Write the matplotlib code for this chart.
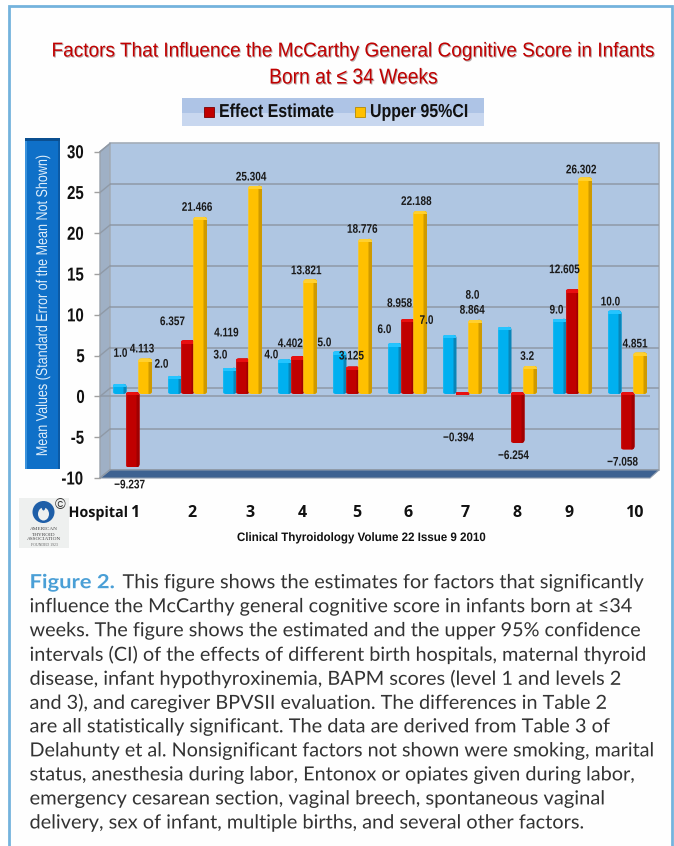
import numpy as np
import matplotlib
matplotlib.use("Agg")
import matplotlib.pyplot as plt
from matplotlib.colors import to_rgb, to_rgba
from matplotlib.patheffects import AbstractPathEffect
from matplotlib.transforms import Affine2D
from matplotlib.patches import Rectangle, Polygon, Circle, FancyBboxPatch, Ellipse

# ---------- data ----------
hospitals = ["1", "2", "3", "4", "5", "6", "7", "8", "9", "10"]
hospital_index = [1, 2, 3, 4, 5, 6, 7, 8, 9, 10]
hospital_values = [1.0, 2.0, 3.0, 4.0, 5.0, 6.0, 7.0, 8.0, 9.0, 10.0]
effect_estimate = [-9.237, 6.357, 4.119, 4.402, 3.125, 8.958, -0.394, -6.254, 12.605, -7.058]
upper_ci = [4.113, 21.466, 25.304, 13.821, 18.776, 22.188, 8.864, 3.2, 26.302, 4.851]
hospital_labels = ["1.0", "2.0", "3.0", "4.0", "5.0", "6.0", "7.0", "8.0", "9.0", "10.0"]
effect_labels = ["\u22129.237", "6.357", "4.119", "4.402", "3.125", "8.958", "\u22120.394", "\u22126.254", "12.605", "\u22127.058"]
upper_labels = ["4.113", "21.466", "25.304", "13.821", "18.776", "22.188", "8.864", "3.2", "26.302", "4.851"]
y_ticks = [-10, -5, 0, 5, 10, 15, 20, 25, 30]

# label offsets (px) relative to bar tip
hospital_off = [(1, 30), (-13, 11), (-9, 12), (-13, 4), (-15, 8), (-10, 13), (-23, 14), (-32, 31), (-3, 8), (-4, 8)]
effect_off = [(-3, -18), (-15, 18), (-16, 25), (-7, 12), (-1, 10), (-8, 15), (-4, -43), (-4, -13), (-8, 19), (-5, -13)]
upper_off = [(-3, 9), (-3, 9), (-4, 8), (-4, 8), (-3, 9), (-4, 9), (-3, 9), (-3, 9), (-4, 7), (-5, 8)]
tick_label_x = [135, 192, 250, 302, 357, 408, 465, 517, 569, 634]

W, H = 674, 846
SANS = "Liberation Sans"
BODY = "Lato"
fig = plt.figure(figsize=(W / 100, H / 100), dpi=100, facecolor="white")
renderer = fig.canvas.get_renderer()


class Condense(AbstractPathEffect):
    """Squeeze a text horizontally about its centre (the installed fonts have no narrow cut)."""

    def __init__(self, sx, shadow=None):
        super().__init__()
        self.sx = sx
        self.shadow = to_rgba(shadow) if shadow else None

    def draw_path(self, rend, gc, tpath, affine, rgbFace=None):
        ext = tpath.get_extents()
        cx = (ext.x0 + ext.x1) / 2
        tr = Affine2D().translate(-cx, 0).scale(self.sx, 1).translate(cx, 0) + affine
        if self.shadow:
            rend.draw_path(gc, tpath, tr + Affine2D().translate(1, -1), self.shadow)
        rend.draw_path(gc, tpath, tr, rgbFace)


def fit(t, left, right, shadow=None):
    """Centre text t between two pixel columns and squeeze it to that width."""
    w = t.get_window_extent(renderer).width
    t.set_x((left + right) / 2)
    t.set_ha("center")
    t.set_path_effects([Condense((right - left) / w, shadow)])
    return t


def axes_px(x0, ytop, x1, ybot, **kw):
    return fig.add_axes([x0 / W, 1 - ybot / H, (x1 - x0) / W, (ybot - ytop) / H], **kw)


# ---------- decoration layer in pixel coordinates ----------
bg = axes_px(0, 0, W, H, zorder=0)
bg.set_xlim(0, W)
bg.set_ylim(H, 0)
bg.axis("off")
FRAME = "#74b3dd"
bg.add_patch(Rectangle((9, 6), 662.5, H, fc="#fefefe", ec=FRAME, lw=2))

# legend band
bg.add_patch(Rectangle((181.5, 98), 302.5, 15, fc="#aec4e6", ec="none"))
bg.add_patch(Rectangle((181.5, 113), 302.5, 13, fc="#c8d7ef", ec="none"))

# y label box
bg.add_patch(Rectangle((24.5, 138), 35.5, 331, fc="#0f70c8", ec="none"))
bg.add_patch(Rectangle((24.5, 138), 35.5, 3, fc="#0b4f90", ec="none"))
bg.add_patch(Rectangle((24.5, 141), 2.5, 328, fc="#3a92dc", ec="none"))
bg.add_patch(Rectangle((57.5, 141), 2.5, 328, fc="#0b5aa5", ec="none"))

# 3D walls
FL, FR, BL, BR = 100, 650, 110, 659
FT, FB, BT, BB = 151.7, 478, 143.5, 470
bg.add_patch(Polygon([(FL, FT), (BL, BT), (BL, BB), (FL, FB)], fc="#9fb0c5", ec="#9aa3ad", lw=1))
bg.add_patch(Rectangle((BL, BT), BR - BL, BB - BT, fc="#afc6e2", ec="#a3adb8", lw=1.2))
bg.add_patch(Polygon([(FL, FB), (BL, BB), (BR, BB), (FR, FB)], fc="#3e6291", ec="#8d9bad", lw=0.8))

# ---------- back wall: gridlines ----------
ax_back = axes_px(BL, BT, BR, BB, zorder=1)
ax_back.patch.set_alpha(0)
ax_back.set_ylim(-10, 30)
ax_back.set_xticks([])
ax_back.set_yticks(y_ticks)
ax_back.tick_params(left=False, labelleft=False)
ax_back.grid(axis="y", color="#8f99a6", lw=1.1)
ax_back.set_axisbelow(True)
for s in ax_back.spines.values():
    s.set_visible(False)

# ---------- front plane: ticks and labels, zero line ----------
ax_front = axes_px(FL, FT, FR, FB, zorder=2)
ax_front.patch.set_alpha(0)
ax_front.set_ylim(-10, 30)
ax_front.set_xlim(0, 1)
ax_front.set_xticks([])
ax_front.set_yticks(y_ticks)
ax_front.tick_params(axis="y", length=4.5, width=1, color="#a0a0a0", pad=5.8, direction="out")
ax_front.set_yticklabels([str(t) for t in y_ticks], fontsize=13.5, fontweight="bold",
                         family=SANS, color="#111111")
for tl in ax_front.get_yticklabels():
    tl.set_path_effects([Condense(0.8)])
ax_front.axhline(0, color="#8f99a6", lw=1.1)
for s in ax_front.spines.values():
    s.set_visible(False)
# diagonal grid lines on the side wall
to_px = lambda v: FB - (v + 10) * (FB - FT) / 40
for t in y_ticks:
    bg.plot([FL, BL], [to_px(t), to_px(t) - 8.2], color="#8f99a6", lw=1.0, zorder=3)

# ---------- bars ----------
ax = axes_px(FL, 147.2, FR, 473.6, zorder=3)
ax.patch.set_alpha(0)
ax.set_xlim(1 - 32.5 / 55, 1 + 517.5 / 55)
ax.set_ylim(-10, 30)
ax.axis("off")
x = np.array(hospital_index, float)
PXX, PXY = 55.0, (473.6 - 147.2) / 40
bw = 14 / PXX
foot = 2 / PXY  # rounded foot of the 3D columns below the zero plane
series = [
    (hospital_values, -13.0 / PXX, "#00b0f0", "#0a85b8", "#25c4ff", hospital_labels, hospital_off, 4),
    (effect_estimate, 0.0, "#c00000", "#a00000", "#e81010", effect_labels, effect_off, 5),
    (upper_ci, 12.7 / PXX, "#ffc000", "#cf9a00", "#ffd030", upper_labels, upper_off, 6),
]
names = ["Hospital", "Effect Estimate", "Upper 95%CI"]
for (vals, off, col, dark, lite, labs, offs, z), name in zip(series, names):
    bars = ax.bar(x + off, vals, width=bw, color=col, zorder=z, label=name, linewidth=0)
    for b, v, lab, (dx, dy) in zip(bars, vals, labs, offs):
        x0, w = b.get_x(), b.get_width()
        lo, hi = min(0, v), max(0, v)
        if v > 0:
            lo -= foot
        r = min(3.5, (hi - lo) * PXY / 2) / PXX
        clip = FancyBboxPatch((x0, lo), w, hi - lo, boxstyle=f"round,pad=0,rounding_size={r}",
                              mutation_aspect=PXX / PXY, transform=ax.transData)
        b.set_clip_path(clip)
        if v > 0:
            foot_patch = Rectangle((x0, lo), w, foot, fc=col, ec="none", zorder=z)
            ax.add_patch(foot_patch)
            foot_patch.set_clip_path(clip)
        # right-hand shaded face
        rgba = np.zeros((1, 20, 4))
        rgba[..., :3] = to_rgb(dark)
        rgba[0, 15:, 3] = 1.0
        rgba[0, 0:2, :3] = 1.0
        rgba[0, 0:2, 3] = 0.10
        im = ax.imshow(rgba, extent=(x0, x0 + w, lo, hi), aspect="auto", zorder=z + 0.1,
                       interpolation="bilinear")
        im.set_clip_path(clip)
        # bright cap
        cap = Rectangle((x0, hi - 3.5 / PXY), w, 3.5 / PXY, fc=lite, ec="none", zorder=z + 0.2)
        ax.add_patch(cap)
        cap.set_clip_path(clip)
        # value label
        ax.annotate(lab, xy=(x0 + w / 2, v), xytext=(dx, dy), textcoords="offset pixels",
                    ha="center", va="center", fontsize=9, fontweight="bold", family=SANS,
                    color="#1a1a1a", zorder=10, annotation_clip=False,
                    path_effects=[Condense(0.8)])
ax.set_xlim(1 - 32.5 / 55, 1 + 517.5 / 55)
ax.set_ylim(-10, 30)

# ---------- overlay texts ----------
top = axes_px(0, 0, W, H, zorder=6)
top.set_xlim(0, W)
top.set_ylim(H, 0)
top.axis("off")
SHADOW = "#b9a9a9"
fit(top.text(354, 51, "Factors That Influence the McCarthy General Cognitive Score in Infants", va="center",
             fontsize=14.5, color="#c00000", family=SANS), 51.5, 655.5, SHADOW)
t2 = top.text(354, 78, "Born at \u2264 34 Weeks", va="center", fontsize=15.5, color="#c00000", family=SANS)
fit(t2, 269, 437, SHADOW)

# legend
top.add_patch(Rectangle((204, 107), 10, 10, fc="#c00000", ec="#7a0000", lw=0.6))
top.add_patch(Rectangle((355, 107), 10, 10, fc="#ffc000", ec="#b58a00", lw=0.6))
fit(top.text(219, 112.5, "Effect Estimate", va="center", fontsize=13.5, fontweight="bold", family=SANS,
             color="#111111"), 219, 334)
fit(top.text(370, 112.5, "Upper 95%CI", va="center", fontsize=13.5, fontweight="bold", family=SANS,
             color="#111111"), 370, 468)

# y label
ylab = top.text(42.5, 304.5, "Mean Values (Standard Error of the Mean Not Shown)", rotation=90, ha="center",
                va="center", fontsize=11.3, color="#dfeefa", family=SANS)
ylab.set_path_effects([Condense(303 / ylab.get_window_extent(renderer).height)])

# x labels
fit(top.text(68, 513, "Hospital", va="center", fontsize=10.6, fontweight="bold", family="Open Sans",
             color="#111111"), 68.5, 128)
for lab, px in zip(hospitals, tick_label_x):
    top.text(px, 513, lab, ha="center", va="center", fontsize=11.5, fontweight="bold",
             family="Open Sans", color="#111111")
fit(top.text(362, 538, "Clinical Thyroidology Volume 22 Issue 9 2010", va="center", fontsize=8.8,
             fontweight="bold", family=SANS, color="#111111"), 237, 487)

# logo
top.add_patch(Rectangle((19, 498), 50, 50, fc="#eef0ef", ec="none"))
top.add_patch(Circle((43.5, 512), 11, fc="#1f5fa8", ec="none"))
top.add_patch(Ellipse((43.5, 514), 11, 13, fc="#eef0ef", ec="none"))
top.add_patch(Ellipse((43.5, 506), 4, 9, fc="#1f5fa8", ec="none"))
top.text(60.5, 505, "\u00a9", ha="center", va="center", fontsize=10.5, color="#333333", family=SANS)
for yy, s in zip([529, 534.5, 539.5], ["AMERICAN", "THYROID", "ASSOCIATION"]):
    top.text(44, yy, s, ha="center", va="center", fontsize=3.8, color="#444444", family="Liberation Serif")
top.text(44, 545.5, "FOUNDED 1923", ha="center", va="center", fontsize=2.8, color="#666666",
         family="Liberation Serif")

# caption
cap_lines = [
    "influence the McCarthy general cognitive score in infants born at \u226434",
    "weeks. The figure shows the estimated and the upper 95% confidence",
    "intervals (CI) of the effects of different birth hospitals, maternal thyroid",
    "disease, infant hypothyroxinemia, BAPM scores (level 1 and levels 2",
    "and 3), and caregiver BPVSII evaluation. The differences in Table 2",
    "are all statistically significant. The data are derived from Table 3 of",
    "Delahunty et al. Nonsignificant factors not shown were smoking, marital",
    "status, anesthesia during labor, Entonox or opiates given during labor,",
    "emergency cesarean section, vaginal breech, spontaneous vaginal",
    "delivery, sex of infant, multiple births, and several other factors.",
]
cap_right = [634, 642.5, 648, 623, 609.5, 612.5, 656, 637, 607, 586]
FS = 14.0
fit(top.text(29.5, 582.7, "Figure 2.", va="center", fontsize=FS, fontweight="bold", color="#4a9fd6", family=BODY),
    29.5, 115.5)
fit(top.text(122.5, 582.7, "This figure shows the estimates for factors that significantly", va="center",
             fontsize=FS, color="#333333", family=BODY), 122.5, 645)
for i, (ln, rgt) in enumerate(zip(cap_lines, cap_right)):
    fit(top.text(29.5, 606.7 + i * 24.03, ln, va="center", fontsize=FS, color="#333333", family=BODY), 29.5, rgt)

fig.savefig("out.png", dpi=100, facecolor="white")
